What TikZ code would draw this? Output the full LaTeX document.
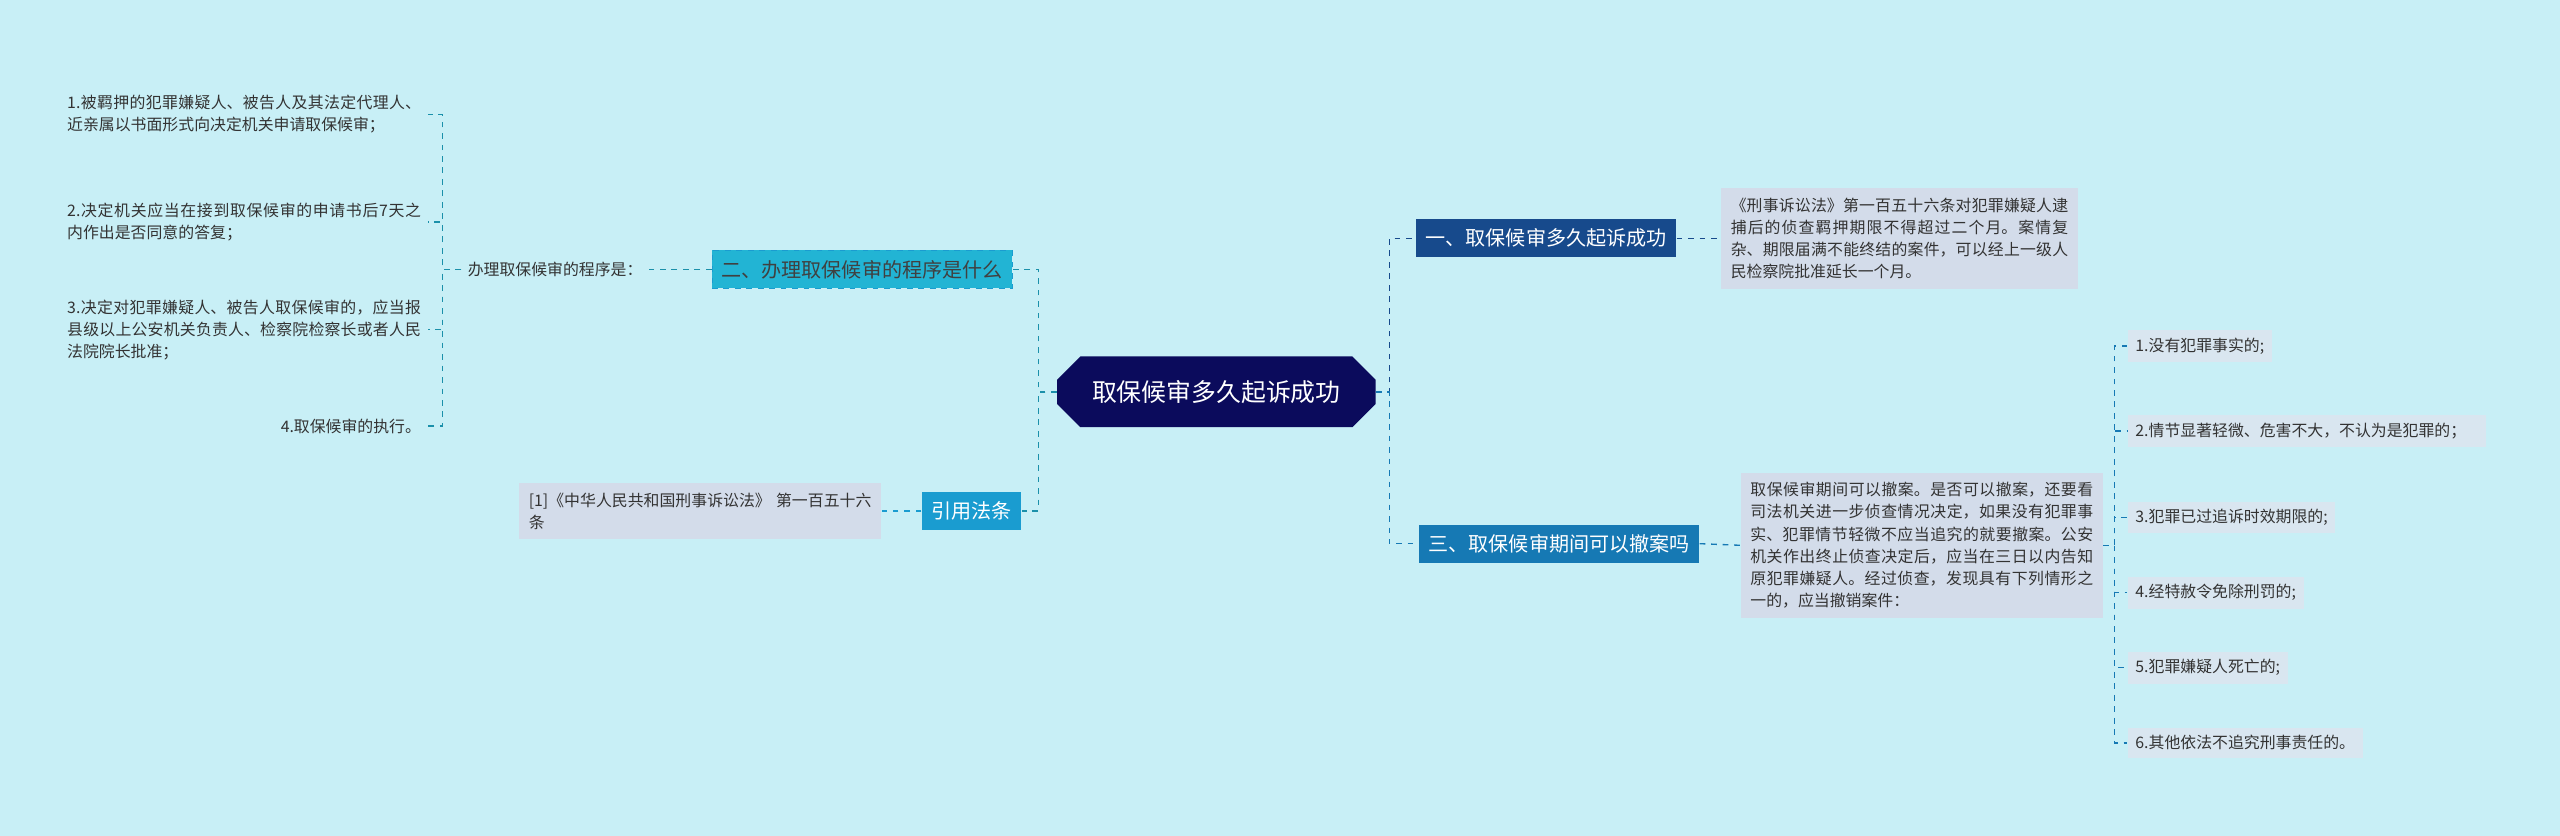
\documentclass[tikz,border=0pt]{standalone}
\usepackage{fontspec}
\setmainfont{Noto Sans CJK SC}
\XeTeXlinebreaklocale "zh"
\XeTeXlinebreakskip=0pt plus 1pt
\usetikzlibrary{positioning,shapes.misc}
\definecolor{bgc}{HTML}{C8EFF6}
\definecolor{rootc}{HTML}{0B0B5C}
\definecolor{onec}{HTML}{174A8C}
\definecolor{threec}{HTML}{1679B4}
\definecolor{twoc}{HTML}{22B4D4}
\definecolor{citec}{HTML}{1A9CD0}
\definecolor{leafc}{HTML}{D3DCEA}
\definecolor{itemc}{HTML}{D9E6F0}
\tikzset{
  topic/.style={rectangle, inner sep=5pt, font=\fontsize{10.5pt}{13pt}\selectfont},
  leaf/.style={rectangle, fill=leafc, inner sep=5pt, align=justify, font=\fontsize{8.3pt}{11.6pt}\selectfont, text=black!80},
  item/.style={rectangle, fill=itemc, inner sep=4pt, align=left, font=\fontsize{8.3pt}{11.6pt}\selectfont, text=black!80},
  plain/.style={align=justify, font=\fontsize{8.3pt}{11.6pt}\selectfont, text=black!80},
  link/.style={dashed, line width=0.7pt},
}
\begin{document}
\begin{tikzpicture}[x=0.03cm, y=-0.03cm]
  \fill[bgc] (0,0) rectangle (1568,512);
  % centre
  \node[chamfered rectangle, chamfered rectangle xsep=0.3cm, fill=rootc, text=white, minimum height=1.3cm, minimum width=5.85cm,
        font=\fontsize{13pt}{15pt}\selectfont] (root) at (745,240) {取保候审多久起诉成功};
  % right side
  \node[topic, fill=onec, text=white] (one) at (947,146) {一、取保候审多久起诉成功};
  \node[topic, fill=threec, text=white] (three) at (955,333) {三、取保候审期间可以撤案吗};
  \node[leaf, anchor=west, text width=6.2cm] (oneleaf) at (1054,146) {《刑事诉讼法》第一百五十六条对犯罪嫌疑人逮捕后的侦查羁押期限不得超过二个月。案情复杂、期限届满不能终结的案件，可以经上一级人民检察院批准延长一个月。};
  \node[leaf, anchor=west, text width=6.3cm] (threeleaf) at (1066,334) {取保候审期间可以撤案。是否可以撤案，还要看司法机关进一步侦查情况决定，如果没有犯罪事实、犯罪情节轻微不应当追究的就要撤案。公安机关作出终止侦查决定后，应当在三日以内告知原犯罪嫌疑人。经过侦查，发现具有下列情形之一的，应当撤销案件：};
  \node[item, anchor=west] (i1) at (1303,212) {1.没有犯罪事实的;};
  \node[item, anchor=west, text width=6.3cm] (i2) at (1303,264) {2.情节显著轻微、危害不大，不认为是犯罪的；};
  \node[item, anchor=west] (i3) at (1303,317) {3.犯罪已过追诉时效期限的;};
  \node[item, anchor=west] (i4) at (1303,363) {4.经特赦令免除刑罚的;};
  \node[item, anchor=west] (i5) at (1303,409) {5.犯罪嫌疑人死亡的;};
  \node[item, anchor=west] (i6) at (1303,455) {6.其他依法不追究刑事责任的。};
  % left side
  \node[topic, fill=twoc, text=black!75, draw=citec, dashed] (two) at (528,165) {二、办理取保候审的程序是什么};
  \node[topic, fill=citec, text=white] (cite) at (595,313) {引用法条};
  \node[plain, align=left] (proc) at (340,165) {办理取保候审的程序是：};
  \node[leaf, anchor=east, text width=6.3cm, align=left] (law) at (540,313) {[1]《中华人民共和国刑事诉讼法》 第一百五十六条};
  \node[plain, anchor=east, text width=6.5cm] (p1) at (262,70) {1.被羁押的犯罪嫌疑人、被告人及其法定代理人、近亲属以书面形式向决定机关申请取保候审；};
  \node[plain, anchor=east, text width=6.5cm] (p2) at (262,136) {2.决定机关应当在接到取保候审的申请书后7天之内作出是否同意的答复；};
  \node[plain, anchor=east, text width=6.5cm] (p3) at (262,202) {3.决定对犯罪嫌疑人、被告人取保候审的，应当报县级以上公安机关负责人、检察院检察长或者人民法院院长批准；};
  \node[plain, anchor=east, align=left] (p4) at (262,261) {4.取保候审的执行。};

  % connectors
  \draw[link, onec] (root.east) -- (851,240) |- (one.west);
  \draw[link, threec] (root.east) -- (851,240) |- (three.west);
  \draw[link, onec] (one.east) -- (oneleaf.west);
  \draw[link, threec] (three.east) -- (threeleaf.west);
  \foreach \n in {i1,i2,i3,i4,i5,i6}
    \draw[link, threec] (threeleaf.east) -- (1295,334) |- (\n.west);
  \draw[link, twoc!80!black] (root.west) -- (636,240) |- (two.east);
  \draw[link, twoc!80!black] (root.west) -- (636,240) |- (cite.east);
  \draw[link, twoc!80!black] (two.west) -- (proc.east);
  \draw[link, citec] (cite.west) -- (law.east);
  \foreach \n in {p1,p2,p3,p4}
    \draw[link, twoc!80!black] (proc.west) -- (271,165) |- (\n.east);
\end{tikzpicture}
\end{document}
